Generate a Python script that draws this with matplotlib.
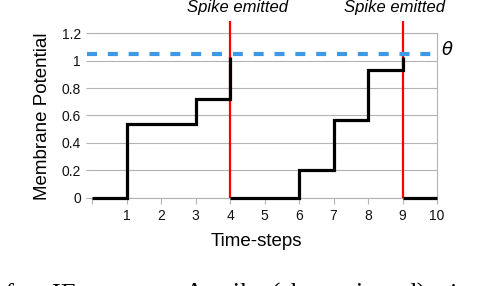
import matplotlib.pyplot as plt
import numpy as np

# membrane potential of an IF neuron, one value per time-step interval
time_steps = list(range(0, 11))
potential = [0, 0.54, 0.54, 0.72, 0, 0, 0.2, 0.57, 0.93, 0]
spike_times = [4, 9]
spike_peaks = [1.03, 1.03]
threshold = 1.05
y_ticks = [0, 0.2, 0.4, 0.6, 0.8, 1.0, 1.2]
y_tick_labels = ['0', '0.2', '0.4', '0.6', '0.8', '1', '1.2']
x_tick_labels = [''] + [str(t) for t in time_steps[1:]]
caption_parts = ['of an IF neuron.', 'A spike (shown in red)', 'is']

plt.rcParams['font.family'] = ['Liberation Sans', 'DejaVu Sans']

fig = plt.figure(figsize=(4.86, 2.86), dpi=100)
ax = fig.add_axes([92 / 486, 88.3 / 286, 345 / 486, 164.4 / 286])

# build the step path, breaking it after each spike
peaks = dict(zip(spike_times, spike_peaks))
xs, ys = [], []
for i, v in enumerate(potential):
    t = time_steps[i]
    if t in peaks:
        xs += [t, np.nan]
        ys += [peaks[t], np.nan]
    xs += [t, time_steps[i + 1]]
    ys += [v, v]

grey = '#b3b3b3'
for s in spike_times:
    ax.plot([s, s], [0, 1.292], color='#ff0000', lw=1.6, clip_on=False, zorder=3,
            solid_capstyle='butt')
ax.plot(xs, ys, color='black', lw=2.3, zorder=4, solid_capstyle='butt',
        solid_joinstyle='miter', clip_on=False)

ax.plot([-0.145, 9.91], [threshold, threshold], color='#3d98e6', lw=3,
        dashes=(2.4, 2.6), clip_on=False, zorder=5)
ax.text(10.29, 1.075, r'$\theta$', fontsize=13, va='center', ha='center',
        family='DejaVu Serif')

for s, xpos in zip(spike_times, [4.22, 8.78]):
    ax.text(xpos, 1.385, 'Spike emitted', style='italic', fontsize=12,
            ha='center', va='center')

ax.set_xlim(0, 10)
ax.set_ylim(0, 1.2)
ax.set_xticks(time_steps)
ax.set_xticklabels(x_tick_labels)
ax.set_yticks(y_ticks)
ax.set_yticklabels(y_tick_labels)
ax.tick_params(axis='both', colors=grey, labelcolor='#111111', labelsize=10,
               length=4, width=0.8)
ax.tick_params(axis='x', pad=4)
ax.tick_params(axis='y', pad=4)
ax.grid(axis='y', color=grey, lw=0.8)
ax.set_axisbelow(True)
for side in ['top', 'right', 'bottom']:
    ax.spines[side].set_color(grey)
    ax.spines[side].set_linewidth(0.8)
ax.spines['left'].set_visible(False)

ax.set_xlabel('Time-steps', fontsize=13.5)
ax.xaxis.set_label_coords((256.5 - 92) / 345, -0.215)
ax.set_ylabel('Membrane Potential', fontsize=13.5)
ax.yaxis.set_label_coords((51 - 92) / 345, (286 - 116.7 - 88.3) / 164.4)

# cropped caption line from the source page (justified, so words placed apart)
for part, xp in zip(caption_parts, [-8, 185, 449]):
    fig.text(xp / 486, -15 / 286, part, family='Liberation Serif', fontsize=19,
             va='baseline', ha='left')

fig.savefig('out.png', dpi=100)
